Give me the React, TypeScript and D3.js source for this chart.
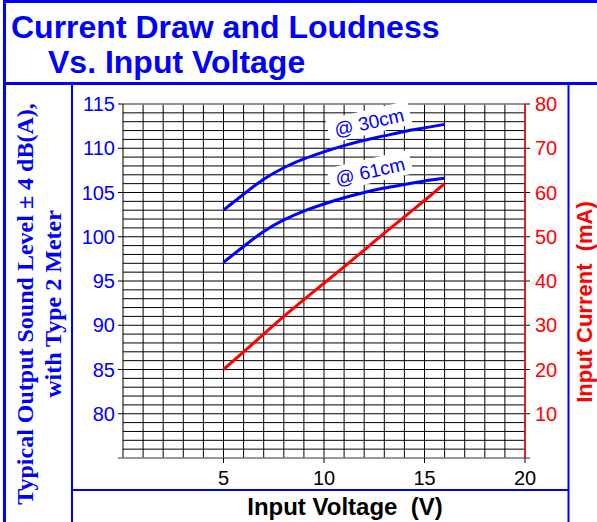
import React from 'react';
import * as d3 from 'd3';

// values
const voltages = [5, 6, 7, 8, 9, 10, 11, 12, 13, 14, 15, 16];
const sound30cm = [103.0, 104.8, 106.5, 107.8, 108.8, 109.6, 110.3, 110.9, 111.4, 111.9, 112.3, 112.7];
const sound61cm = [97.1, 98.9, 100.6, 101.9, 102.9, 103.7, 104.4, 105.0, 105.5, 105.9, 106.3, 106.6];
const currentMA = [20, 24, 28, 32, 35.8, 39.5, 43.2, 47, 50.8, 54.5, 58.2, 62];

const dbTicks = [80, 85, 90, 95, 100, 105, 110, 115];
const maTicks = [10, 20, 30, 40, 50, 60, 70, 80];
const voltTicks = [5, 10, 15, 20];

const W = 597;
const H = 522;
const plot = { left: 123, right: 525, top: 104, bottom: 458 };

const BLUE = '#0000ff';
const RED = '#ff0000';

export default function App() {
  const x = d3.scaleLinear().domain([0, 20]).range([plot.left, plot.right]);
  const yDb = d3.scaleLinear().domain([75, 115]).range([plot.bottom, plot.top]);
  const yMa = d3.scaleLinear().domain([0, 80]).range([plot.bottom, plot.top]);

  const lineDb = d3.line<number>()
    .x((_, i) => x(voltages[i]))
    .y(d => yDb(d))
    .curve(d3.curveMonotoneX);
  const lineMa = d3.line<number>()
    .x((_, i) => x(voltages[i]))
    .y(d => yMa(d))
    .curve(d3.curveMonotoneX);

  const hGrid = d3.range(76, 116);
  const vGrid = d3.range(1, 21);

  const curveLabel = (text: string, cx: number, cy: number, angle: number) => (
    <g transform={`translate(${cx},${cy}) rotate(${angle})`}>
      <rect x={-42} y={-12} width={84} height={24} fill="#fff" />
      <text x={0} y={7} textAnchor="middle" fontSize={19} fill={BLUE}
        fontFamily="Liberation Sans, Arial, sans-serif">{text}</text>
    </g>
  );

  return (
    <svg width={W} height={H} style={{ position: 'absolute', left: 0, top: 0, background: '#fff' }}>
      {/* frame */}
      <line x1={4.5} y1={0} x2={4.5} y2={H} stroke={BLUE} strokeWidth={3} />
      <line x1={3} y1={1.5} x2={W} y2={1.5} stroke={BLUE} strokeWidth={3} />
      <line x1={3} y1={83.5} x2={W} y2={83.5} stroke={BLUE} strokeWidth={3} />
      <line x1={72} y1={84} x2={72} y2={H} stroke={BLUE} strokeWidth={2} />
      <line x1={568.5} y1={84} x2={568.5} y2={H} stroke={BLUE} strokeWidth={2} />
      <line x1={72} y1={490} x2={568.5} y2={490} stroke={BLUE} strokeWidth={2} />

      {/* title */}
      <g fontFamily="Liberation Sans, Arial, sans-serif" fontWeight="bold" fontSize={32} fill={BLUE}>
        <text x={11} y={38}>Current Draw and Loudness</text>
        <text x={48} y={73}>Vs. Input Voltage</text>
      </g>

      {/* grid */}
      <g stroke="#000" strokeWidth={1}>
        {hGrid.map(v => (
          <line key={'h' + v} x1={plot.left} x2={plot.right} y1={yDb(v)} y2={yDb(v)} />
        ))}
        {vGrid.map(v => (
          <line key={'v' + v} x1={x(v)} x2={x(v)} y1={plot.top} y2={plot.bottom} />
        ))}
      </g>
      <line x1={plot.left} x2={plot.right} y1={plot.top} y2={plot.top} stroke="#999" strokeWidth={1.5} />

      {/* axes */}
      <line x1={plot.left} x2={plot.left} y1={plot.top} y2={plot.bottom} stroke="#000" />
      <line x1={plot.left - 5} x2={plot.right + 5} y1={plot.bottom} y2={plot.bottom} stroke="#777" strokeWidth={1.5} />
      <g fontFamily="Liberation Sans, Arial, sans-serif" fontSize={20}>
        {dbTicks.map(t => (
          <g key={'db' + t}>
            <line x1={plot.left - 5} x2={plot.left} y1={yDb(t)} y2={yDb(t)} stroke="#000" />
            <text x={plot.left - 8} y={yDb(t)} dy="0.35em" textAnchor="end" fill={BLUE}>{t}</text>
          </g>
        ))}
        {maTicks.map(t => (
          <g key={'ma' + t}>
            <line x1={plot.right} x2={plot.right + 5} y1={yMa(t)} y2={yMa(t)} stroke="#000" />
            <text x={plot.right + 10} y={yMa(t)} dy="0.35em" fill={RED}>{t}</text>
          </g>
        ))}
        {voltTicks.map(t => (
          <g key={'v' + t}>
            <line x1={x(t)} x2={x(t)} y1={plot.bottom} y2={plot.bottom + 5} stroke="#000" />
            <text x={x(t)} y={485} textAnchor="middle" fill="#000">{t}</text>
          </g>
        ))}
      </g>
      <line x1={plot.right} x2={plot.right} y1={plot.top} y2={plot.bottom} stroke={RED} strokeWidth={1.5} />

      {/* curves */}
      <path d={lineDb(sound30cm) || ''} fill="none" stroke={BLUE} strokeWidth={3} />
      <path d={lineDb(sound61cm) || ''} fill="none" stroke={BLUE} strokeWidth={3} />
      <path d={lineMa(currentMA) || ''} fill="none" stroke={RED} strokeWidth={3} />

      {curveLabel('@ 30cm', 369, 122, -13)}
      {curveLabel('@ 61cm', 370, 171, -13)}

      {/* axis titles */}
      <text x={345} y={515} textAnchor="middle" fontFamily="Liberation Sans, Arial, sans-serif"
        fontWeight="bold" fontSize={24} fill="#000" style={{ whiteSpace: 'pre' }}>Input Voltage  (V)</text>

      <g fontFamily="Liberation Serif, Times New Roman, serif" fontWeight="bold" fontSize={24} fill={BLUE}>
        <text transform="translate(33,304) rotate(-90)" textAnchor="middle">Typical Output Sound Level ± 4 dB(A),</text>
        <text transform="translate(61,304) rotate(-90)" textAnchor="middle">with Type 2 Meter</text>
      </g>

      <text transform="translate(592,302) rotate(-90)" textAnchor="middle"
        fontFamily="Liberation Sans, Arial, sans-serif" fontWeight="bold" fontSize={22} fill={RED}
        style={{ whiteSpace: 'pre' }}>Input Current  (mA)</text>
    </svg>
  );
}
